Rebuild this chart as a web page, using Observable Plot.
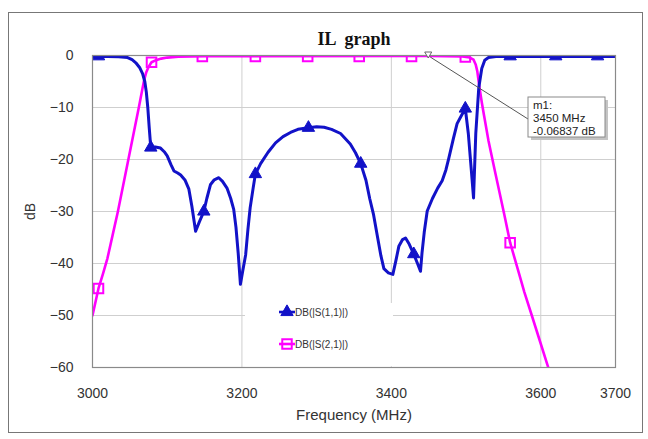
<!DOCTYPE html>
<html>
<head>
<meta charset="utf-8">
<script src="https://cdn.jsdelivr.net/npm/d3@7"></script>
<script src="https://cdn.jsdelivr.net/npm/@observablehq/plot@0.6"></script>
<style>
  html, body { margin: 0; padding: 0; background: #fff; }
  #wrap { position: relative; width: 648px; height: 439px; overflow: hidden; }
  #outer { position: absolute; left: 8px; top: 12px; width: 635px; height: 421px; border: 1px solid #777; box-sizing: border-box; }
  #chart { position: absolute; left: 0; top: 0; }
</style>
</head>
<body>
<div id="wrap"><div id="outer"></div><div id="chart"></div></div>
<script>
// ---------- data ----------
const titleText = "IL  graph";
const xLabel = "Frequency (MHz)";
const yLabel = "dB";
const xTicks = [3000, 3200, 3400, 3600, 3700];
const yTicks = [0, -10, -20, -30, -40, -50, -60];
const xGrid = [3200, 3400, 3600];
const yGrid = [-10, -20, -30, -40, -50];

// DB(|S(1,1)|)
const s11Freq = [3000,3020,3035,3047,3053,3058,3063,3067,3070,3072,3074,3076,3078,3084,3091,3096,3100,3105,3109,3114,3118,3124,3129,3133,3138,3143,3149,3153,3158,3163,3169,3174,3180,3185,3189,3192,3195,3198,3201,3205,3208,3211,3215,3218,3225,3235,3245,3255,3265,3275,3289,3300,3310,3320,3332,3345,3352,3359,3366,3371,3376,3381,3386,3390,3396,3402,3406,3410,3415,3419,3424,3430,3435,3439,3441,3444,3448,3455,3462,3468,3473,3477,3483,3488,3494,3499,3503,3507,3510,3513,3517,3521,3525,3530,3540,3700];
const s11Db = [-0.2,-0.2,-0.25,-0.4,-0.8,-1.4,-2.3,-3.5,-5,-7,-10,-14,-17.7,-17.6,-17.8,-18.5,-19.3,-21,-22.2,-22.6,-23,-24,-25.7,-29,-33.8,-32,-30,-27.5,-24.8,-23.9,-23.5,-24.2,-25.5,-27.5,-29.6,-33,-38,-44,-41.5,-38.3,-33.5,-29.3,-25.5,-22.8,-20.8,-18.6,-16.8,-15.6,-14.8,-14.2,-13.9,-13.7,-13.8,-14.2,-15,-17,-18.7,-20.8,-24,-27.5,-30.5,-34.5,-38.5,-41,-41.8,-42.1,-39.5,-36.7,-35.4,-35.1,-36.3,-38.2,-40,-41.5,-38,-34,-29.9,-27.5,-25.5,-24.1,-22,-19.7,-16,-13.1,-11.5,-10.2,-15,-22,-27.4,-15,-6.2,-2.5,-0.9,-0.4,-0.2,-0.2];
const s11MarkFreq = [3008,3078,3149,3218,3289,3359,3430,3499,3559,3620,3676];
const s11MarkDb = [-0.15,-17.7,-30,-22.8,-13.9,-20.8,-38.2,-10.2,-0.15,-0.15,-0.15];

// DB(|S(2,1)|)
const s21Freq = [3000,3008,3014,3020,3027,3034,3041,3048,3055,3062,3066,3069,3072,3075,3079,3085,3092,3100,3115,3150,3450,3495,3505,3510,3513,3515,3518,3521,3524,3530,3539,3545,3551,3559,3569,3578,3588,3599,3610,3620];
const s21Db = [-50,-44.8,-42,-39,-34.5,-30,-25,-20,-15,-10,-7,-4.8,-3.2,-2.2,-1.3,-0.9,-0.6,-0.4,-0.25,-0.15,-0.07,-0.2,-0.4,-0.8,-1.8,-3,-6.2,-9,-11.5,-16.4,-22.5,-26.5,-30.5,-36,-41,-45.5,-50,-55,-60,-64];
const s21MarkFreq = [3008,3079,3147,3218,3288,3357,3427,3499,3559];
const s21MarkDb = [-44.8,-1.3,-0.2,-0.2,-0.2,-0.2,-0.2,-0.3,-36];

const seriesNames = ["DB(|S(1,1)|)", "DB(|S(2,1)|)"];
const seriesColors = ["#1212c8", "#ff00ff"];

const markerFreq = 3450;
const markerDb = -0.06837;
const markerLines = ["m1:", "3450 MHz", "-0.06837 dB"];

// ---------- build tables ----------
const s11 = s11Freq.map((f, i) => ({f, db: s11Db[i]}));
const s21 = s21Freq.map((f, i) => ({f, db: s21Db[i]}));
const s11m = s11MarkFreq.map((f, i) => ({f, db: s11MarkDb[i]}));
const s21m = s21MarkFreq.map((f, i) => ({f, db: s21MarkDb[i]}));

const chart = Plot.plot({
  width: 648,
  height: 439,
  marginLeft: 92,
  marginRight: 33,
  marginTop: 55,
  marginBottom: 72,
  style: {fontFamily: "'Liberation Sans', Arial, sans-serif", fontSize: "14px", color: "#333", background: "transparent", overflow: "visible"},
  x: {domain: [3000, 3700]},
  y: {domain: [-60, 0]},
  marks: [
    Plot.gridX(xGrid, {stroke: "#cfcfcf", strokeOpacity: 1}),
    Plot.gridY(yGrid, {stroke: "#cfcfcf", strokeOpacity: 1}),
    Plot.axisX({ticks: xTicks, tickFormat: d3.format("d"), tickSize: 0, tickPadding: 21, label: null, fontSize: 14}),
    Plot.axisY({ticks: yTicks, tickFormat: d3.format("d"), tickSize: 0, tickPadding: 19, label: null, fontSize: 14}),
    Plot.line(s21, {x: "f", y: "db", stroke: seriesColors[1], strokeWidth: 2.6, clip: true}),
    Plot.line(s11, {x: "f", y: "db", stroke: seriesColors[0], strokeWidth: 3, clip: true}),
    Plot.dot(s21m, {x: "f", y: "db", symbol: "square", r: 5.4, stroke: seriesColors[1], strokeWidth: 2, fill: "none", clip: true}),
    Plot.dot(s11m, {x: "f", y: "db", symbol: "triangle", r: 4.6, fill: seriesColors[0], stroke: seriesColors[0], strokeWidth: 1, clip: true}),
    Plot.frame({stroke: "#8a8a8a", strokeWidth: 1.2}),
    Plot.text([titleText], {frameAnchor: "top", lineAnchor: "middle", dy: -16, fontFamily: "'Liberation Serif', 'Times New Roman', serif", fontWeight: "bold", fontSize: 18, fill: "#111"}),
    Plot.text([xLabel], {frameAnchor: "bottom", lineAnchor: "middle", dy: 48, fontSize: 15, fill: "#333"}),
    Plot.text([yLabel], {frameAnchor: "left", lineAnchor: "middle", textAnchor: "middle", dx: -62, rotate: -90, fontSize: 14, fill: "#333"})
  ]
});

document.getElementById("chart").appendChild(chart);

// ---------- decorations using the chart's scales ----------
const xs = chart.scale("x");
const ys = chart.scale("y");
const svg = d3.select(chart);
const g = svg.append("g").attr("font-family", "'Liberation Sans', Arial, sans-serif").attr("text-anchor", "start");

// legend background (hides grid lines behind the legend)
const frameBottom = ys.apply(-60);
g.append("rect").attr("x", 245).attr("y", 303).attr("width", 148).attr("height", frameBottom - 303 - 0.8).attr("fill", "white");

const legendY = [312, 344];
const legendSym = [d3.symbolTriangle, d3.symbolSquare];
seriesNames.forEach((name, i) => {
  const yy = legendY[i];
  g.append("line").attr("x1", 279).attr("x2", 295).attr("y1", yy).attr("y2", yy)
    .attr("stroke", seriesColors[i]).attr("stroke-width", 2.6);
  const p = g.append("path").attr("d", d3.symbol(legendSym[i], i === 0 ? 66 : 90)())
    .attr("transform", `translate(287,${yy})`);
  if (i === 0) p.attr("fill", seriesColors[i]).attr("stroke", seriesColors[i]);
  else p.attr("fill", "none").attr("stroke", seriesColors[i]).attr("stroke-width", 2);
  g.append("text").attr("x", 295).attr("y", yy + 3.5).attr("font-size", 10).attr("fill", "#333").text(name);
});

// marker m1
const mx = xs.apply(markerFreq), my = ys.apply(0);
const boxX = 528, boxY = 97, boxW = 77, boxH = 40;
g.append("line").attr("x1", mx + 2).attr("y1", my + 2).attr("x2", boxX).attr("y2", boxY + 22)
  .attr("stroke", "#555").attr("stroke-width", 1);
g.append("path").attr("d", "M-3.5,-3 L3.5,-3 L0,3 Z").attr("transform", `translate(${mx},${my})`)
  .attr("fill", "white").attr("stroke", "#666").attr("stroke-width", 1);
g.append("rect").attr("x", boxX + 3).attr("y", boxY + 3).attr("width", boxW).attr("height", boxH).attr("fill", "#c4c4c4");
g.append("rect").attr("x", boxX).attr("y", boxY).attr("width", boxW).attr("height", boxH)
  .attr("fill", "white").attr("stroke", "#8a8a8a").attr("stroke-width", 1);
markerLines.forEach((t, i) => {
  g.append("text").attr("x", boxX + 5).attr("y", boxY + 12 + i * 13).attr("font-size", 11.5).attr("fill", "#222").text(t);
});
</script>
</body>
</html>
